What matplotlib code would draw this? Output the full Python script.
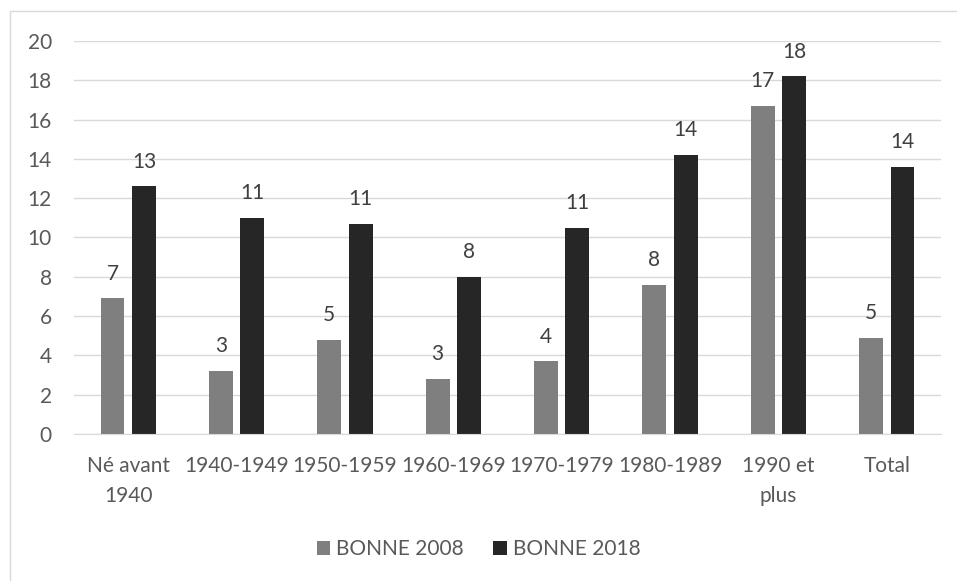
import numpy as np
import matplotlib.pyplot as plt
from matplotlib.patches import Rectangle

categories = ["Né avant\n1940", "1940-1949", "1950-1959", "1960-1969",
              "1970-1979", "1980-1989", "1990 et\nplus", "Total"]
bonne_2008 = [6.9, 3.2, 4.8, 2.8, 3.7, 7.6, 16.7, 4.9]
bonne_2018 = [12.6, 11.0, 10.7, 8.0, 10.5, 14.2, 18.2, 13.6]
labels_2008 = ["7", "3", "5", "3", "4", "8", "17", "5"]
labels_2018 = ["13", "11", "11", "8", "11", "14", "18", "14"]

plt.rcParams['font.family'] = ['Lato', 'DejaVu Sans']
text_color = '#595959'

fig = plt.figure(figsize=(9.57, 5.81), dpi=100)
# chart border
fig.patches.append(Rectangle((10 / 957, -0.01), 1.02, 1 - 11 / 581 + 0.01,
                             transform=fig.transFigure, fill=False,
                             edgecolor='#d9d9d9', linewidth=1))
ax = fig.add_axes([74 / 957, 1 - 434 / 581, (941 - 74) / 957, (434 - 41) / 581])

x = np.arange(len(categories))
w = 0.22
b1 = ax.bar(x - 0.145, bonne_2008, w, color='#7f7f7f', label='BONNE 2008', zorder=2)
b2 = ax.bar(x + 0.145, bonne_2018, w, color='#262626', label='BONNE 2018', zorder=2)

for bars, labs in ((b1, labels_2008), (b2, labels_2018)):
    for r, t in zip(bars, labs):
        ax.text(r.get_x() + r.get_width() / 2, r.get_height() + 0.75, t,
                ha='center', va='bottom', fontsize=15, color='#404040')

ax.set_xlim(-0.5, len(categories) - 0.5)
ax.set_ylim(0, 20)
ax.set_yticks(range(0, 21, 2))
ax.set_xticks(x)
ax.set_xticklabels(categories, linespacing=1.6, va='top')
ax.tick_params(axis='both', length=0, labelsize=15, labelcolor=text_color)
ax.tick_params(axis='y', pad=16)
ax.tick_params(axis='x', pad=16)
ax.grid(axis='y', color='#d9d9d9', linewidth=1, zorder=0)
for s in ('top', 'right', 'left'):
    ax.spines[s].set_visible(False)
ax.spines['bottom'].set_color('#d9d9d9')

ax.legend(loc='center', bbox_to_anchor=(0.5, 1 - 549 / 581), bbox_transform=fig.transFigure,
          ncol=2, frameon=False, fontsize=15, labelcolor=text_color,
          handlelength=0.65, handleheight=0.65, handletextpad=0.3, columnspacing=1.4)

fig.savefig('out.png', dpi=100)
